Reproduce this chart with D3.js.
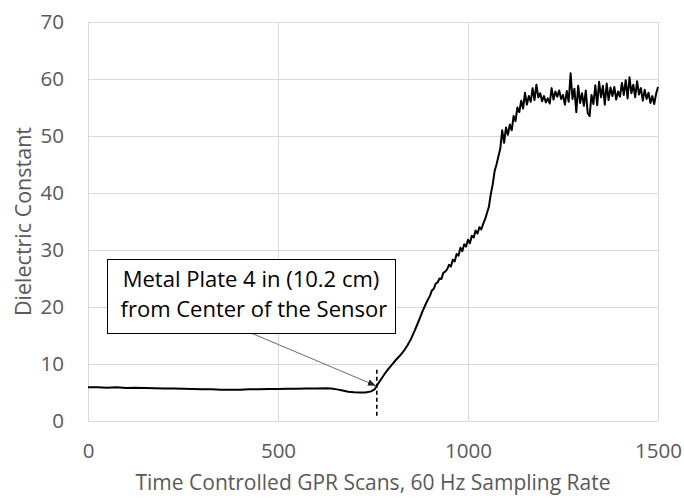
<!DOCTYPE html>
<html>
<head>
<meta charset="utf-8">
<script src="https://cdn.jsdelivr.net/npm/d3@7"></script>
<style>
  html, body { margin: 0; padding: 0; background: #fff; }
  svg { display: block; }
  text { font-family: "Open Sans", sans-serif; }
</style>
</head>
<body>
<svg id="chart" width="684" height="498"></svg>
<script>
// Scan index (60 Hz samples) and measured dielectric constant
const scan = [
  0, 25, 50, 75, 100, 125, 150, 175, 200, 225, 250, 275, 300, 325, 350, 375,
  400, 425, 450, 475, 500, 525, 550, 575, 600, 625, 640, 655, 670, 685, 700,
  715, 730, 745, 755,
  760, 770, 780, 790, 800, 810, 820, 830, 840, 850, 860, 870, 880, 890,
  900, 905, 910, 915, 920, 925, 930, 935, 940, 945, 950, 955, 960, 965, 970,
  975, 980, 985, 990, 995, 1000, 1005, 1010, 1015, 1020, 1025, 1030, 1035,
  1040, 1045, 1050, 1055, 1060, 1065, 1070, 1075, 1080, 1085, 1090,
  1095, 1100, 1105, 1110, 1115, 1120, 1125, 1130, 1135, 1140, 1145, 1150,
  1155, 1160, 1165, 1170, 1175, 1180, 1185, 1190, 1195, 1200, 1205, 1210,
  1215, 1220, 1225, 1230, 1235, 1240, 1245, 1250, 1255, 1260, 1265, 1270,
  1275, 1280, 1285, 1290, 1295, 1300, 1305, 1310, 1315, 1320, 1325, 1330,
  1335, 1340, 1345, 1350, 1355, 1360, 1365, 1370, 1375, 1380, 1385, 1390,
  1395, 1400, 1405, 1410, 1415, 1420, 1425, 1430, 1435, 1440, 1445, 1450,
  1455, 1460, 1465, 1470, 1475, 1480, 1485, 1490, 1495, 1500
];
const dielectric = [
  5.9, 5.9, 5.85, 5.9, 5.8, 5.85, 5.8, 5.75, 5.7, 5.7, 5.65, 5.6, 5.55, 5.55, 5.5, 5.5,
  5.5, 5.55, 5.55, 5.6, 5.6, 5.65, 5.65, 5.7, 5.7, 5.75, 5.7, 5.55, 5.35, 5.15, 5.05,
  5.0, 5.0, 5.2, 5.6,
  6.2, 7.2, 8.2, 9.1, 9.9, 10.7, 11.4, 12.2, 13.2, 14.4, 15.9, 17.5, 19.2, 20.7,
  22.0, 22.9, 23.2, 24.1, 24.3, 25.0, 24.9, 26.0, 26.2, 26.6, 27.4, 27.1, 28.3, 28.0, 29.3,
  29.0, 30.4, 29.8, 31.0, 30.6, 31.8, 31.2, 32.5, 32.2, 33.4, 32.9, 34.0, 33.6,
  34.6, 35.4, 36.5, 37.6, 39.8, 41.5, 43.8, 45.0, 46.4, 47.8, 51.0,
  48.8, 51.5, 50.2, 52.0, 51.0, 53.5, 52.6, 55.0, 54.2, 56.2, 54.8, 57.6,
  55.5, 57.0, 56.0, 58.4, 56.3, 59.0, 56.8, 57.5, 56.1, 57.0, 55.9, 56.6,
  55.7, 58.4, 56.4, 57.8, 56.9, 58.0, 56.5, 57.2, 55.5, 57.9, 56.0, 61.0,
  56.5, 58.3, 54.2, 58.8, 55.8, 57.5, 55.3, 58.0, 54.0, 53.5, 57.2, 55.6,
  58.9, 55.4, 59.5, 56.8, 58.8, 55.5, 59.2, 56.3, 58.5, 57.0, 58.6, 56.4,
  57.8, 56.9, 59.3, 57.2, 59.8, 56.6, 60.3, 57.5, 59.0, 56.8, 59.6, 57.3,
  58.4, 56.2, 58.1, 56.5, 57.6, 55.8, 57.0, 55.6, 57.4, 58.6
];

const xTicks = [0, 500, 1000, 1500];
const yTicks = [0, 10, 20, 30, 40, 50, 60, 70];

const xTitle = "Time Controlled GPR Scans, 60 Hz Sampling Rate";
const yTitle = "Dielectric Constant";
const noteLines = ["Metal Plate 4 in (10.2 cm)", " from Center of the Sensor"];
// Marked scan where the plate sits, and the dashed marker's vertical extent
const markerScan = 760;
const markerValue = 6.2;
const markerRange = [0.8, 9];

const margin = { left: 88, right: 26, top: 22, bottom: 77 };
const W = 684, H = 498;
const svg = d3.select("#chart");

const x = d3.scaleLinear().domain([0, 1500]).range([margin.left, W - margin.right]);
const y = d3.scaleLinear().domain([0, 70]).range([H - margin.bottom, margin.top]);

const grid = "#d9d9d9";
const labelColor = "#595959";

// Gridlines
svg.append("g")
  .selectAll("line")
  .data(yTicks)
  .join("line")
  .attr("x1", x(0)).attr("x2", x(1500))
  .attr("y1", d => y(d)).attr("y2", d => y(d))
  .attr("stroke", grid).attr("stroke-width", 1)
  .attr("shape-rendering", "crispEdges");
svg.append("g")
  .selectAll("line")
  .data(xTicks)
  .join("line")
  .attr("y1", y(0)).attr("y2", y(70))
  .attr("x1", d => x(d)).attr("x2", d => x(d))
  .attr("stroke", grid).attr("stroke-width", 1)
  .attr("shape-rendering", "crispEdges");

// Axes (labels only)
const yAxis = d3.axisLeft(y).tickValues(yTicks).tickFormat(d3.format("d"))
  .tickSize(0).tickPadding(24);
const gy = svg.append("g").attr("transform", `translate(${margin.left},0)`).call(yAxis);
gy.select(".domain").remove();
gy.selectAll("text").attr("fill", labelColor).style("font-size", "20.5px")
  .style("font-family", "'Open Sans', sans-serif");

const xAxis = d3.axisBottom(x).tickValues(xTicks).tickFormat(d3.format("d"))
  .tickSize(0).tickPadding(22);
const gx = svg.append("g").attr("transform", `translate(0,${y(0)})`).call(xAxis);
gx.select(".domain").remove();
gx.selectAll("text").attr("fill", labelColor).style("font-size", "20.5px")
  .style("font-family", "'Open Sans', sans-serif");

// Axis titles
svg.append("text")
  .attr("x", (x(0) + x(1500)) / 2).attr("y", 490)
  .attr("text-anchor", "middle").attr("fill", labelColor)
  .style("font-size", "21px").text(xTitle);
svg.append("text")
  .attr("transform", `translate(31,${(y(0) + y(70)) / 2}) rotate(-90)`)
  .attr("text-anchor", "middle").attr("fill", labelColor)
  .style("font-size", "21.5px").text(yTitle);

// Data line
const line = d3.line().x((d, i) => x(scan[i])).y(d => y(d));
svg.append("path")
  .datum(dielectric)
  .attr("d", line)
  .attr("fill", "none")
  .attr("stroke", "#000")
  .attr("stroke-width", 2)
  .attr("stroke-linejoin", "round");

// Dashed marker at the plate position
svg.append("line")
  .attr("x1", x(markerScan)).attr("x2", x(markerScan))
  .attr("y1", y(markerRange[1])).attr("y2", y(markerRange[0]))
  .attr("stroke", "#000").attr("stroke-width", 1.6)
  .attr("stroke-dasharray", "4,3");

// Callout box with arrow
const box = { x: 107, y: 259, w: 288, h: 74 };
svg.append("defs").append("marker")
  .attr("id", "arrow")
  .attr("viewBox", "0 0 10 10")
  .attr("refX", 10).attr("refY", 5)
  .attr("markerWidth", 8).attr("markerHeight", 8)
  .attr("markerUnits", "userSpaceOnUse")
  .attr("orient", "auto")
  .append("path").attr("d", "M0,1 L10,5 L0,9 Z").attr("fill", "#222");

svg.append("line")
  .attr("x1", box.x + box.w / 2).attr("y1", box.y + box.h)
  .attr("x2", x(markerScan) - 1).attr("y2", y(markerValue))
  .attr("stroke", "#6b6b6b").attr("stroke-width", 1)
  .attr("marker-end", "url(#arrow)");

svg.append("rect")
  .attr("x", box.x + 0.5).attr("y", box.y + 0.5)
  .attr("width", box.w).attr("height", box.h)
  .attr("fill", "#fff").attr("stroke", "#000").attr("stroke-width", 1);

svg.append("text")
  .attr("x", box.x + box.w / 2).attr("y", box.y + 28)
  .attr("text-anchor", "middle").attr("fill", "#000")
  .style("font-size", "22px").style("white-space", "pre")
  .selectAll("tspan")
  .data(noteLines)
  .join("tspan")
  .attr("x", box.x + box.w / 2)
  .attr("dy", (d, i) => i === 0 ? 0 : 30)
  .text(d => d);
</script>
</body>
</html>
